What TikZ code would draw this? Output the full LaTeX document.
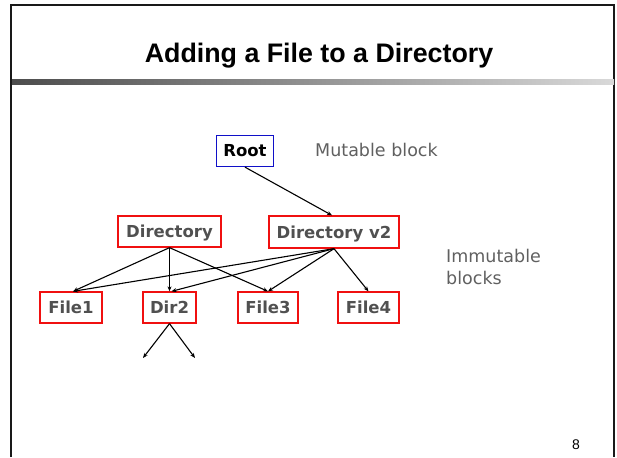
\documentclass[tikz,border=0pt]{standalone}
\usepackage{fontspec}
\setmainfont{DejaVu Sans}
\newfontfamily\titlefont{Liberation Sans}
\newfontfamily\numfont{Liberation Sans}
\newfontfamily\boxfont{DejaVu Sans}
\usetikzlibrary{arrows.meta}
\definecolor{boxred}{HTML}{F01010}
\definecolor{boxblue}{HTML}{1010C8}
\definecolor{labelgray}{HTML}{505050}
\definecolor{notegray}{HTML}{606060}
\tikzset{
  block/.style={draw=boxred, line width=1.3pt, rectangle, inner sep=0pt,
    text height=12pt, text depth=0pt,
    font=\boxfont\bfseries\fontsize{16.5}{18}\selectfont, text=labelgray},
  rootblock/.style={block, draw=boxblue, text=black},
  link/.style={line width=1.1pt, -{Stealth[length=5pt,width=4pt]}},
  note/.style={font=\fontsize{17.5}{22}\selectfont, text=notegray, inner sep=0pt, align=left}
}
\begin{document}
\begin{tikzpicture}[x=1pt,y=-1pt]
\useasboundingbox (0,0) rectangle (617,457);
% slide frame and title rule
\draw[line width=2pt, color=black!90] (11,457) -- (11,5) -- (614,5) -- (614,457);
\shade[left color=black!70, right color=black!15] (12,80) rectangle (614,85);
\node[anchor=base, inner sep=0pt, font=\titlefont\bfseries\fontsize{26.8}{30}\selectfont] (title) at (319,63) {Adding a File to a Directory};
% blocks
\node[rootblock, minimum width=57pt, minimum height=31pt] (root) at (245,151) {Root};
\node[block, minimum width=103pt, minimum height=31pt] (dir) at (169.5,231.5) {Directory};
\node[block, minimum width=130pt, minimum height=32pt] (dirv2) at (334,232) {Directory v2};
\node[block, minimum width=62pt, minimum height=31pt] (file1) at (71,307.5) {File1};
\node[block, minimum width=53pt, minimum height=31pt] (dir2) at (169.5,307.5) {Dir2};
\node[block, minimum width=60pt, minimum height=31pt] (file3) at (268,307.5) {File3};
\node[block, minimum width=61pt, minimum height=31pt] (file4) at (368.5,307.5) {File4};
\coordinate (leafa) at (143,358);
\coordinate (leafb) at (195,358);
% notes
\node[note, anchor=base west] (mut) at (315,157) {Mutable block};
\node[note, anchor=base west] (immut) at (446,284) {Immutable\\blocks};
\node[anchor=base, inner sep=0pt, font=\numfont\fontsize{14}{16}\selectfont] (page) at (576,449) {8};
% pointers
\draw[link] (root.south) -- ([xshift=-2pt]dirv2.north);
\draw[link] (dir.south) -- ([xshift=2pt]file1.north);
\draw[link] (dir.south) -- (dir2.north);
\draw[link] (dir.south) -- (file3.north);
\draw[link] (dirv2.south) -- ([xshift=2pt]file1.north);
\draw[link] (dirv2.south) -- ([xshift=2pt]dir2.north);
\draw[link] (dirv2.south) -- (file3.north);
\draw[link] (dirv2.south) -- (file4.north);
\draw[link] (dir2.south) -- (leafa);
\draw[link] (dir2.south) -- (leafb);
\end{tikzpicture}
\end{document}
